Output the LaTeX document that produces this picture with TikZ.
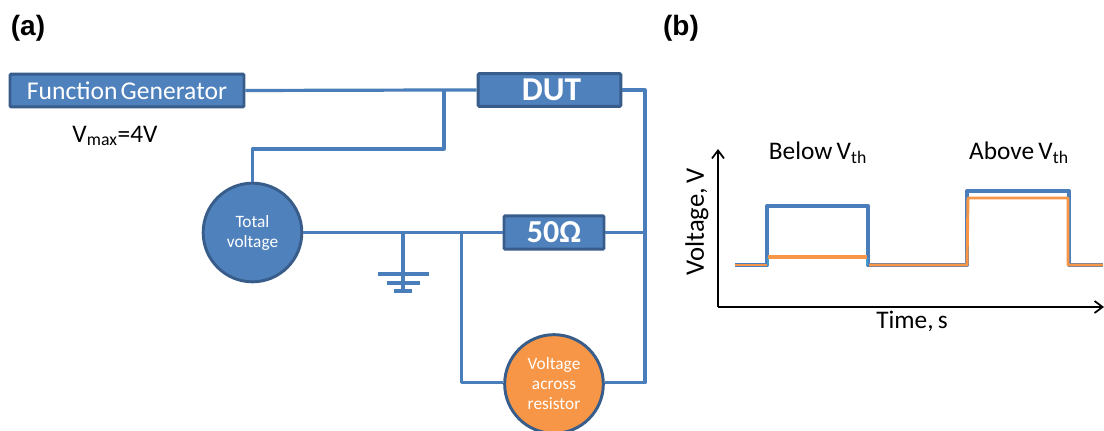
\documentclass[tikz,border=0pt]{standalone}
\usepackage{fontspec}
\setmainfont{Carlito}
\newfontfamily\arialfont{Liberation Sans}
\usetikzlibrary{arrows.meta}
\definecolor{pblue}{HTML}{4F81BD}
\definecolor{pedge}{HTML}{385D8A}
\definecolor{pwire}{HTML}{4A7EBB}
\definecolor{porange}{HTML}{F79646}
\tikzset{
  x=0.75pt,y=-0.75pt,
  boxnode/.style={draw=pedge,line width=2.2pt,fill=pblue,text=white,rounded corners=0.8pt,inner sep=0pt,anchor=center},
  circnode/.style={circle,draw=pedge,line width=2.2pt,fill=#1,text=white,inner sep=0pt,minimum size=74pt,align=center,font=\fontsize{13pt}{15pt}\selectfont},
  wire/.style={draw=pwire,line width=2.4pt,line join=round},
  axisline/.style={draw=black,line width=1.5pt,-{Straight Barb[length=6pt,width=9pt,line width=1.3pt]}},
  label/.style={text=black,inner sep=0pt,anchor=center},
  panel/.style={text=black,inner sep=0pt,anchor=center,font=\arialfont\bfseries\fontsize{21pt}{24pt}\selectfont},
  trace/.style={line width=#1,line join=round},
}
\begin{document}
\begin{tikzpicture}
\useasboundingbox (0,0) rectangle (1104,431);
\fill[white] (0,0) rectangle (1104,431);
\node[panel] (pa) at (28,28) {(a)};
\node[panel] (pb) at (681,28) {(b)};
% coordinates
\coordinate (j1) at (444,90);
\coordinate (j2) at (444,149);
\coordinate (j3) at (252.5,149);
\coordinate (gnd) at (403,232.5);
\coordinate (gndend) at (403,291);
\coordinate (j4) at (461.5,232.5);
\coordinate (j5) at (461.5,382.5);
\coordinate (r1) at (645,90);
\coordinate (r2) at (645,232.5);
\coordinate (r3) at (645,382.5);
% nodes
\node[boxnode,minimum width=175.5pt,minimum height=24.5pt,font=\fontsize{19.2pt}{22pt}\selectfont] (fg) at (127,90.5) {Function\hspace{.12em}Generator};
\node[boxnode,minimum width=107pt,minimum height=24.5pt,font=\bfseries\fontsize{25pt}{26pt}\selectfont] (dut) at (549.5,90) {\hspace{3pt}DUT};
\node[boxnode,minimum width=75pt,minimum height=25pt,font=\bfseries\fontsize{24pt}{25pt}\selectfont] (res) at (554,232.5) {50Ω};
\node[circnode=pblue] (tv) at (252.5,232.5) {Total\\voltage};
\node[circnode=porange] (va) at (554,384) {Voltage\\across\\resistor};
\node[label,font=\fontsize{19pt}{20pt}\selectfont] (vmax) at (115,136) {V\textsubscript{max}=4V};
% wires
\draw[wire] (fg.east) -- (j1) -- (dut.west);
\draw[wire] (j1) -- (j2) -- (j3) -- (tv.north);
\draw[wire] (dut.east) -- (r1) -- (r2) -- (r3) -- (va.east |- r3);
\draw[wire] (tv.east |- j4) -- (gnd) -- (j4) -- (res.west);
\draw[wire] (res.east) -- (r2);
\draw[wire] (j4) -- (j5) -- (va.west |- j5);
\draw[wire] (gnd) -- (gndend);
\coordinate (g1l) at (378,274); \coordinate (g1r) at (429,274);
\coordinate (g2l) at (387,283); \coordinate (g2r) at (420,283);
\coordinate (g3l) at (394,291); \coordinate (g3r) at (412,291);
\draw[wire] (g1l) -- (g1r);
\draw[wire] (g2l) -- (g2r);
\draw[wire] (g3l) -- (g3r);
% plot
\coordinate (o) at (718,307);
\coordinate (ytop) at (718,149);
\coordinate (xend) at (1104,307);
\draw[axisline] (o) -- (ytop);
\draw[axisline] (o) -- (xend);
\node[label,font=\fontsize{20pt}{20pt}\selectfont,rotate=90] (ylab) at (697,222) {Voltage,\,V};
\node[label,font=\fontsize{19pt}{20pt}\selectfont] (xlab) at (912,321) {Time,\,s};
\node[label,font=\fontsize{19pt}{20pt}\selectfont] (below) at (818,153) {Below\,V\textsubscript{th}};
\node[label,font=\fontsize{19pt}{20pt}\selectfont] (above) at (1019,153) {Above\,V\textsubscript{th}};
\draw[trace=3pt,draw=pwire] (735,265) -- (767,265) -- (767,206) -- (868,206) -- (868,265) -- (967,265) -- (967,191) -- (1069,191) -- (1069,265) -- (1103,265);
\draw[trace=2.2pt,draw=porange] (735,265) -- (767,265);
\draw[trace=1.2pt,draw=cyan!50!pwire] (768,265) -- (768,257);
\draw[trace=1.2pt,draw=cyan!50!pwire] (867,257) -- (867,265);
\draw[trace=2.4pt,draw=porange] (768,257) -- (867,257);
\draw[trace=2.2pt,draw=porange] (869,265) -- (967,265) -- (968,198) -- (1068,198) -- (1068,265) -- (1103,265);
\end{tikzpicture}
\end{document}
